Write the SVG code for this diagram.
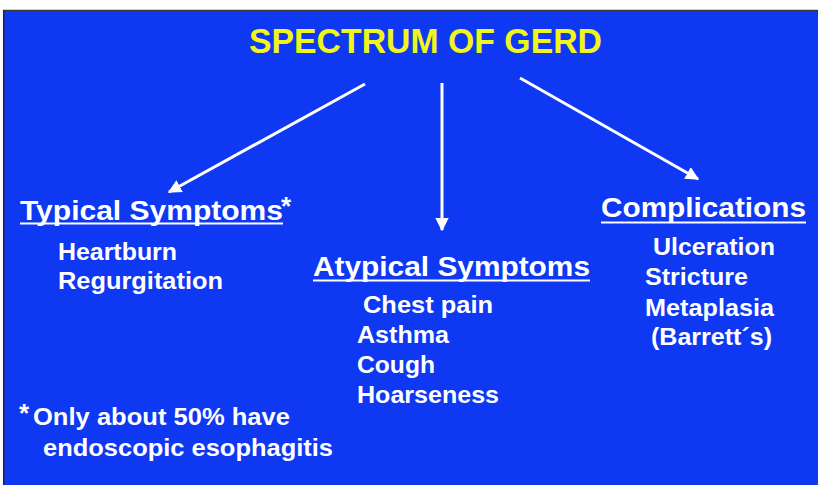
<svg xmlns="http://www.w3.org/2000/svg" width="818" height="485" viewBox="0 0 818 485">
  <defs>
    <marker id="ah" viewBox="0 0 10 10" refX="9" refY="5" markerWidth="4.5" markerHeight="4.5" orient="auto" markerUnits="strokeWidth">
      <path d="M0,0 L10,5 L0,10 Z" fill="#ffffff"/>
    </marker>
  </defs>
  <style>
    text { font-family: "Liberation Sans", Arial, sans-serif; font-weight: bold; fill: #ffffff; }
    .title { fill: #f2f51a; font-size: 35px; }
    .head { font-size: 27px; }
    .item { font-size: 24px; }
    .conn line { stroke: #ffffff; stroke-width: 3; marker-end: url(#ah); }
    .ul { stroke: #ffffff; stroke-width: 2; }
  </style>
  <rect x="0" y="0" width="818" height="485" fill="#ffffff"/>
  <rect x="4" y="10" width="814" height="475" fill="#0e38f2"/>
  <line x1="3" y1="10.5" x2="818" y2="10.5" stroke="#3a3a3a" stroke-width="1.5"/>
  <line x1="3.7" y1="10" x2="3.7" y2="485" stroke="#222244" stroke-width="1.5"/>

  <g id="title">
    <text class="title" x="249" y="53" textLength="353" lengthAdjust="spacingAndGlyphs">SPECTRUM OF GERD</text>
  </g>

  <g class="conn" id="connectors">
    <line x1="365" y1="84" x2="169" y2="192"/>
    <line x1="442" y1="83" x2="442" y2="230"/>
    <line x1="520" y1="78" x2="698" y2="179"/>
  </g>

  <g id="typical">
    <text class="head" x="20" y="220" textLength="263" lengthAdjust="spacingAndGlyphs">Typical Symptoms</text>
    <line class="ul" x1="20" y1="223.5" x2="283" y2="223.5"/>
    <text x="281" y="215" font-size="26">*</text>
    <text class="item" x="58" y="260" textLength="119" lengthAdjust="spacingAndGlyphs">Heartburn</text>
    <text class="item" x="58" y="289" textLength="165" lengthAdjust="spacingAndGlyphs">Regurgitation</text>
  </g>

  <g id="atypical">
    <text class="head" x="313" y="276" textLength="277" lengthAdjust="spacingAndGlyphs">Atypical Symptoms</text>
    <line class="ul" x1="313" y1="280.5" x2="590" y2="280.5"/>
    <text class="item" x="363" y="313" textLength="130" lengthAdjust="spacingAndGlyphs">Chest pain</text>
    <text class="item" x="357" y="343" textLength="92" lengthAdjust="spacingAndGlyphs">Asthma</text>
    <text class="item" x="357" y="373" textLength="78" lengthAdjust="spacingAndGlyphs">Cough</text>
    <text class="item" x="357" y="403" textLength="142" lengthAdjust="spacingAndGlyphs">Hoarseness</text>
  </g>

  <g id="complications">
    <text class="head" x="601" y="217" textLength="205" lengthAdjust="spacingAndGlyphs">Complications</text>
    <line class="ul" x1="601" y1="222.5" x2="806" y2="222.5"/>
    <text class="item" x="653" y="255" textLength="122" lengthAdjust="spacingAndGlyphs">Ulceration</text>
    <text class="item" x="645" y="285" textLength="103" lengthAdjust="spacingAndGlyphs">Stricture</text>
    <text class="item" x="645" y="316" textLength="129" lengthAdjust="spacingAndGlyphs">Metaplasia</text>
    <text class="item" x="651" y="345" textLength="121" lengthAdjust="spacingAndGlyphs">(Barrett´s)</text>
  </g>

  <g id="footnote">
    <text x="19" y="422" font-size="26">*</text>
    <text class="item" x="33" y="425" textLength="257" lengthAdjust="spacingAndGlyphs">Only about 50% have</text>
    <text class="item" x="43" y="456" textLength="290" lengthAdjust="spacingAndGlyphs">endoscopic esophagitis</text>
  </g>
</svg>
